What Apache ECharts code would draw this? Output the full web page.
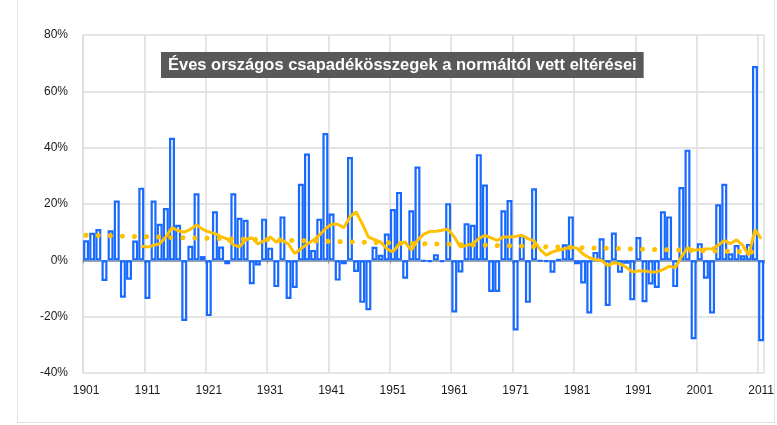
<!DOCTYPE html>
<html>
<head>
<meta charset="utf-8">
<script src="https://cdn.jsdelivr.net/npm/echarts@6/dist/echarts.min.js"></script>
<style>
html,body{margin:0;padding:0;background:#fff;}
#c{width:777px;height:425px;}
</style>
</head>
<body>
<div id="c"></div>
<script>
const years = [];
for (let y = 1901; y <= 2011; y++) years.push(String(y));

const deviation = [
  7.1, 9.8, 11.1, -7.3, 10.7, 21.2, -13.3, -6.9, 7.0, 25.8,
  -13.7, 21.2, 13.0, 18.6, 43.5, 12.6, -21.5, 5.2, 23.8, 1.5,
  -19.8, 17.4, 4.9, -1.4, 23.8, 15.1, 14.4, -8.5, -1.8, 14.8,
  4.5, -9.5, 15.6, -13.7, -9.8, 27.2, 37.9, 3.7, 14.8, 45.2,
  16.6, -7.2, -1.4, 36.7, -4.1, -15.1, -17.7, 4.8, 2.0, 9.5,
  18.2, 24.3, -6.5, 17.8, 33.3, -0.3, -0.6, 2.2, -0.6, 20.3,
  -18.5, -4.3, 13.2, 12.6, 37.7, 26.9, -11.2, -11.2, 17.8, 21.4,
  -24.9, 8.9, -15.1, 25.6, -0.3, -0.6, -4.4, 0.3, 5.7, 15.6,
  -1.4, -8.2, -18.9, 3.0, 7.8, -16.2, 9.9, -4.4, -1.2, -14.2,
  8.3, -14.9, -8.6, -9.8, 17.4, 15.6, -9.5, 26.0, 39.3, -28.0,
  6.1, -6.5, -18.9, 19.9, 27.2, 2.5, 5.4, 1.8, 5.8, 69.0,
  -28.7
];

const movingAvg = [
  null, null, null, null, null, null, null, null, null, 5.0,
  4.7, 5.3, 5.9, 8.3, 11.6, 10.5, 10.0, 11.0, 12.6, 11.0,
  10.1, 9.5, 8.4, 7.6, 5.5, 4.8, 7.3, 8.0, 5.8, 7.0,
  8.3, 6.5, 7.1, 5.7, 2.4, 4.1, 5.7, 7.1, 8.9, 11.2,
  12.8, 12.8, 11.6, 15.4, 17.2, 13.0, 8.3, 7.3, 6.5, 4.1,
  3.0, 5.7, 6.5, 3.6, 7.1, 9.2, 10.2, 10.3, 10.7, 11.0,
  8.3, 4.7, 5.3, 5.9, 7.7, 8.9, 8.0, 7.1, 8.3, 8.3,
  8.5, 8.9, 7.7, 6.9, 3.8, 1.8, 3.0, 3.6, 4.1, 4.7,
  4.3, 2.2, 0.9, 0.3, 0.0, -1.9, -0.9, -1.2, -2.4, -4.1,
  -3.8, -3.8, -4.1, -4.1, -3.3, -2.1, -2.6, 1.2, 4.5, 3.6,
  3.8, 4.0, 4.1, 5.3, 7.1, 5.9, 7.3, 5.3, 1.8, 10.9,
  7.7
];

const trendStart = 8.9;
const trendEnd = 2.9;
const trend = years.map((y, i) => i === 0 ? trendStart : (i === years.length - 1 ? trendEnd : null));

const yTicks = [-40, -20, 0, 20, 40, 60, 80];
const titleText = 'Éves országos csapadékösszegek a normáltól vett eltérései';

const chart = echarts.init(document.getElementById('c'), null, {renderer: 'canvas'});
chart.setOption({
  animation: false,
  backgroundColor: '#ffffff',
  graphic: [{
    type: 'rect',
    shape: {x: 17.5, y: -2, width: 757, height: 424.5},
    style: {fill: 'none', stroke: '#e2e2e2', lineWidth: 1},
    silent: true,
    z: -10
  }],
  title: {
    text: titleText,
    left: 161,
    top: 52,
    backgroundColor: '#595959',
    padding: [4, 7, 4, 7],
    textStyle: {color: '#ffffff', fontSize: 16.5, lineHeight: 18, fontWeight: 'bold', fontFamily: 'Liberation Sans, Arial, sans-serif'}
  },
  grid: {left: 83, right: 9, top: 35, bottom: 52, containLabel: false},
  xAxis: [{
    type: 'category',
    data: years,
    boundaryGap: true,
    axisLine: {show: false, onZero: false},
    axisTick: {show: false},
    axisLabel: {interval: 9, margin: 12, color: '#1a1a1a', fontSize: 12, fontFamily: 'Liberation Sans, Arial, sans-serif'},
    splitLine: {show: true, interval: 9, lineStyle: {color: '#dcdcdc', width: 1.5}}
  }, {
    type: 'category',
    data: years,
    boundaryGap: true,
    position: 'bottom',
    axisLine: {show: true, onZero: true, lineStyle: {color: '#7d8ea6', width: 1.5}},
    axisTick: {show: true, interval: 9, length: 3, lineStyle: {color: '#8a8a8a'}},
    axisLabel: {show: false},
    splitLine: {show: false}
  }],
  yAxis: {
    type: 'value',
    min: yTicks[0],
    max: yTicks[yTicks.length - 1],
    interval: 20,
    axisLine: {show: true, lineStyle: {color: '#dcdcdc', width: 1.5}},
    axisTick: {show: false},
    axisLabel: {formatter: '{value}%', margin: 15, color: '#1a1a1a', fontSize: 12, fontFamily: 'Liberation Sans, Arial, sans-serif'},
    splitLine: {show: true, lineStyle: {color: '#dcdcdc', width: 1.5}}
  },
  series: [{
    type: 'bar',
    data: deviation,
    xAxisIndex: 0,
    barCategoryGap: '3%',
    itemStyle: {color: 'rgba(255,255,255,0)', borderColor: '#1769ff', borderWidth: 2.2},
    clip: false,
    z: 2
  }, {
    type: 'line',
    data: trend,
    connectNulls: true,
    symbol: 'none',
    lineStyle: {color: '#ffc000', width: 5, type: [0.1, 12], cap: 'round'},
    z: 3
  }, {
    type: 'line',
    data: movingAvg,
    symbol: 'none',
    lineStyle: {color: '#ffc000', width: 3},
    z: 4
  }]
});
</script>
</body>
</html>
